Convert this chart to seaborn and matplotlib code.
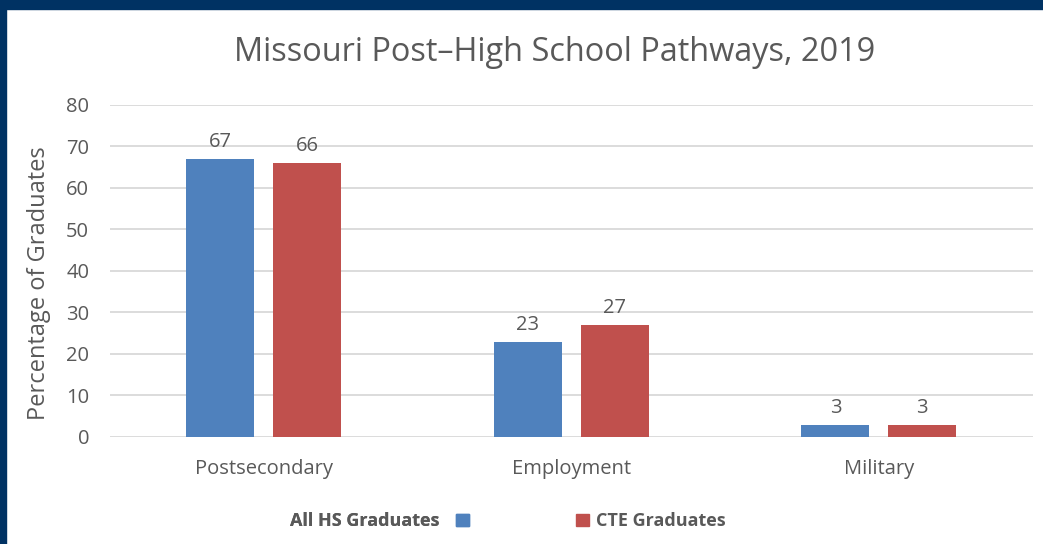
import pandas as pd
import matplotlib
matplotlib.use("Agg")
import matplotlib.pyplot as plt
import seaborn as sns
from matplotlib.patches import Rectangle, Patch

pathways = ["Postsecondary", "Employment", "Military"]
all_hs = [67, 23, 3]
cte = [66, 27, 3]
groups = ["All HS Graduates", "CTE Graduates"]
yticks = [0, 10, 20, 30, 40, 50, 60, 70, 80]

df = pd.DataFrame({
    "pathway": pathways * 2,
    "pct": all_hs + cte,
    "group": [groups[0]] * 3 + [groups[1]] * 3,
})

sns.set_style("white")
plt.rcParams["font.family"] = ["Open Sans", "DejaVu Sans"]
txt = "#595959"
colors = {"All HS Graduates": "#4F81BD", "CTE Graduates": "#C0504D"}

fig = plt.figure(figsize=(10.43, 5.44), dpi=100)
ax = fig.add_axes([0.1055, 0.1967, 0.8845, 0.6103])
sns.barplot(data=df, x="pathway", y="pct", hue="group", palette=colors,
            width=0.565, gap=0.22, ax=ax, legend=False, saturation=1, linewidth=0)

for c in ax.containers:
    ax.bar_label(c, fmt="%d", padding=5, fontsize=14.5, color=txt)

ax.set_ylim(0, 80)
ax.set_xlim(-0.5, 2.5)
ax.set_yticks(yticks)
ax.yaxis.grid(True, color="#D9D9D9", linewidth=1.3)
ax.set_axisbelow(True)
for s in ax.spines.values():
    s.set_visible(False)
ax.tick_params(axis="y", length=0, pad=15, labelsize=14.5, labelcolor=txt)
ax.tick_params(axis="x", length=0, pad=16, labelsize=14.5, labelcolor=txt)
ax.set_xlabel("")
ax.set_ylabel("")

fig.text(0.532, 0.904, "Missouri Post\u2013High School Pathways, 2019", ha="center",
         va="center", fontsize=23.4, color=txt)
fig.text(0.037, 0.48, "Percentage of Graduates", rotation=90, ha="center",
         va="center", fontsize=17, color=txt)

# legend: text before marker for first series, after for second
leg1 = fig.legend(handles=[Patch(color=colors[groups[0]])], labels=[groups[0]],
                  loc="center right", bbox_to_anchor=(0.465, 0.042), frameon=False,
                  markerfirst=False, handlelength=0.7, handleheight=0.7,
                  prop={"weight": "bold", "size": 13}, labelcolor=txt, handletextpad=0.9)
fig.add_artist(leg1)
fig.legend(handles=[Patch(color=colors[groups[1]])], labels=[groups[1]],
           loc="center left", bbox_to_anchor=(0.537, 0.042), frameon=False,
           handlelength=0.7, handleheight=0.7,
           prop={"weight": "bold", "size": 13}, labelcolor=txt, handletextpad=0.4)

# navy frame
navy = "#003263"
fig.add_artist(Rectangle((0, 1 - 9 / 544), 1, 9 / 544, transform=fig.transFigure,
                         color=navy, zorder=10))
fig.add_artist(Rectangle((0, 0), 6 / 1043, 1, transform=fig.transFigure,
                         color=navy, zorder=10))

fig.savefig("out.png", dpi=100)
